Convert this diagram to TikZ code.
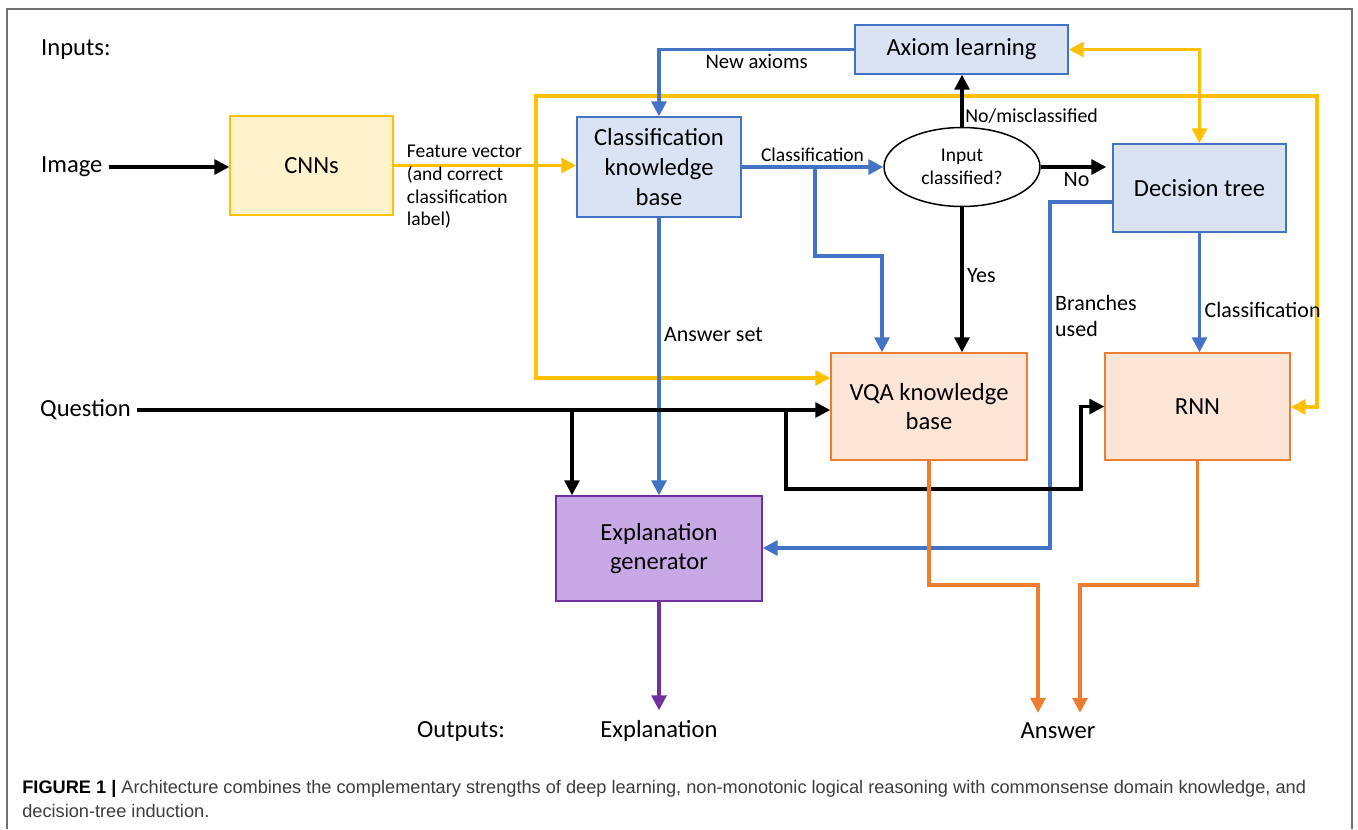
\documentclass[tikz,border=0pt]{standalone}
\usepackage{fontspec}
\setmainfont{Carlito}
\setsansfont{Liberation Sans}
\usetikzlibrary{arrows.meta,shapes.geometric}

\definecolor{lineblue}{HTML}{4472C4}
\definecolor{lineyel}{HTML}{FFC000}
\definecolor{lineorg}{HTML}{ED7D31}
\definecolor{linepur}{HTML}{7030A0}
\definecolor{fillblue}{HTML}{DAE3F3}
\definecolor{fillyel}{HTML}{FFF2CC}
\definecolor{fillorg}{HTML}{FBE5D6}
\definecolor{fillpur}{HTML}{C8A9E5}
\definecolor{framegray}{HTML}{707070}
\definecolor{capgray}{HTML}{3C3C3C}

\begin{document}
\begin{tikzpicture}[x=0.02cm, y=-0.02cm, font=\fontsize{14}{17}\selectfont,
    box/.style={draw, line width=0.85pt, align=center, inner sep=1pt},
    kbbox/.style={box, draw=lineblue, fill=fillblue},
    cnnbox/.style={box, draw=lineyel, fill=fillyel},
    outbox/.style={box, draw=lineorg, fill=fillorg},
    expbox/.style={box, draw=linepur, fill=fillpur},
    lbl/.style={font=\fontsize{12.5}{15}\selectfont, text=black, inner sep=2pt},
    smlbl/.style={font=\fontsize{11.1}{13}\selectfont, text=black, inner sep=2pt},
    arr/.style={-{Triangle[length=0.3cm, width=0.3cm]}},
    dbl/.style={{Triangle[length=0.3cm, width=0.3cm]}-{Triangle[length=0.3cm, width=0.3cm]}},
    blk/.style={line width=1.8pt, arr},
    bl/.style={line width=1.9pt, lineblue, arr},
    yline/.style={line width=1.9pt, lineyel},
    oline/.style={line width=1.9pt, lineorg},
    pline/.style={line width=1.9pt, linepur}]
    \useasboundingbox (0,0) rectangle (1358,829);

    % Frame
    \draw[framegray, line width=0.8pt] (7,829) -- (7,9) -- (1352,9) -- (1352,829);

    % Inputs
    \node[anchor=west] (inputs) at (35,50) {Inputs:};
    \node[anchor=west] (image) at (35,167) {Image};
    \node[anchor=west] (question) at (34,410) {Question};

    % Boxes
    \node[cnnbox, minimum width=3.26cm, minimum height=1.98cm] (cnn) at (311.5,165.5) {CNNs};
    \node[kbbox, minimum width=3.28cm, minimum height=2cm] (ckb) at (659,167) {Classification\\knowledge\\base};
    \node[kbbox, minimum width=4.26cm, minimum height=0.98cm] (axiom) at (961.5,49.5) {Axiom learning};
    \node[ellipse, draw, line width=0.85pt, smlbl, inner sep=0pt, align=center,
          minimum width=3.12cm, minimum height=1.58cm] (inp) at (962,167) {Input\\classified?};
    \node[kbbox, minimum width=3.46cm, minimum height=1.76cm] (dt) at (1199.5,188) {Decision tree};
    \node[outbox, minimum width=3.92cm, minimum height=2.14cm] (vqa) at (929,406.5) {VQA knowledge\\base};
    \node[outbox, minimum width=3.7cm, minimum height=2.14cm] (rnn) at (1197.5,406.5) {RNN};
    \node[expbox, minimum width=4.12cm, minimum height=2.1cm] (exp) at (659,548.5) {Explanation\\generator};

    % Outputs
    \node (outputs) at (461,731) {Outputs:};
    \node (explanation) at (659,731) {Explanation};
    \node (answer) at (1058,731) {Answer};

    % Feature vector path
    \draw[blk] (image.east) -- (image.east -| cnn.west);
    \draw[yline, arr] (cnn.east) -- (cnn.east -| ckb.west);
    \node[smlbl, anchor=north west, align=left] (feat) at (403,141)
        {Feature vector\\(and correct\\classification\\label)};
    \coordinate (ytop) at (536,96);
    \coordinate (ybot) at (536,378);
    \coordinate (yright) at (1317,407);
    \draw[yline, dbl] (ybot -| vqa.west) -- (ybot) -- (ytop) -| (yright) -- (yright -| rnn.east);
    \draw[yline, dbl] (axiom.east) -| (dt.north);

    % Classification knowledge base
    \draw[bl] (axiom.west) -| node[pos=0.25, below, lbl, font=\fontsize{11.8}{14}\selectfont]{New axioms} (ckb.north);
    \draw[bl] (ckb.east |- inp.west) -- node[above, smlbl]{Classification} (inp.west);
    \coordinate (cbr) at (815,167);
    \coordinate (cbend) at (882,256);
    \draw[bl] (cbr) |- (cbend) -- (cbend |- vqa.north);
    \draw[bl] (ckb.south) -- node[pos=0.42, right, lbl]{Answer set} (exp.north);

    % Input classified?
    \draw[blk] (inp.north) -- node[pos=0.2, right, lbl, font=\fontsize{11.3}{14}\selectfont, inner sep=1pt]{No/misclassified} (inp.north |- axiom.south);
    \draw[blk, shorten >=0.12cm] (inp.east) -- node[below, lbl]{No} (inp.east -| dt.west);
    \draw[blk] (inp.south) -- node[pos=0.47, right, lbl]{Yes} (inp.south |- vqa.north);

    % Decision tree
    \draw[bl] (dt.south) -- node[pos=0.65, right, lbl]{Classification} (dt.south |- rnn.north);
    \coordinate (bu) at (1050,548);
    \draw[bl] ([yshift=-0.28cm]dt.west) -| node[pos=0.665, right, lbl, align=left]{Branches\\used} (bu) -- (bu -| exp.east);

    % Question
    \draw[blk] (question.east) -- (question.east -| vqa.west);
    \coordinate (q1) at (572,410);
    \coordinate (q2) at (786,410);
    \coordinate (q3) at (1081,489);
    \draw[blk] (q1) -- (q1 |- exp.north);
    \draw[blk] (q2) |- (q3) |- (rnn.west);

    % Answers and explanation
    \draw[pline, arr, shorten >=0.08cm] (exp.south) -- (explanation.north);
    \coordinate (a1) at (1038,585);
    \coordinate (a2) at (1080,585);
    \foreach \src/\cor in {vqa/a1, rnn/a2} {
        \draw[oline, arr, shorten >=0.08cm] (\src.south) |- (\cor) -- (\cor |- answer.north);
    }

    % Caption
    \node[anchor=base west, inner sep=0pt, text=capgray, font=\sffamily\fontsize{10.35}{13}\selectfont] (cap1) at (22,793)
        {\textcolor{black}{\textbf{FIGURE 1 |}} Architecture combines the complementary strengths of deep learning, non-monotonic logical reasoning with commonsense domain knowledge, and};
    \node[anchor=base west, inner sep=0pt, text=capgray, font=\sffamily\fontsize{10.35}{13}\selectfont] (cap2) at (22,817)
        {decision-tree induction.};
\end{tikzpicture}
\end{document}
